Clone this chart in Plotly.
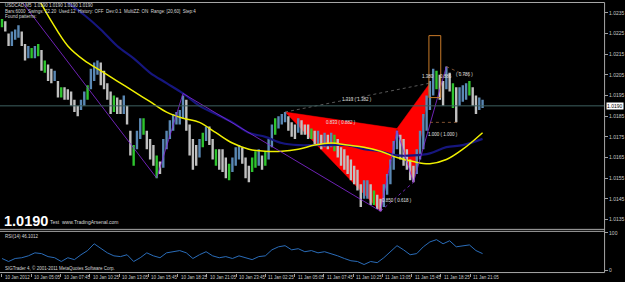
import plotly.graph_objects as go
import pandas as pd

# ---------------- data ----------------
start = pd.Timestamp("2012-01-10 02:25")
step_min = 18          # sampling of bars (minutes)

high = [1.0232,1.0231,1.0225,1.0226,1.0227,1.0229,1.0226,1.0220,1.0219,1.0218,
        1.0219,1.0220,1.0217,1.0212,1.0210,1.0208,1.0207,1.0202,1.0199,1.0199,
        1.0198,1.0197,1.0193,1.0190,1.0193,1.0197,1.0200,1.0208,1.0211,1.0212,
        1.0211,1.0207,1.0201,1.0197,1.0195,1.0194,1.0193,1.0195,1.0190,1.0178,
        1.0171,1.0178,1.0184,1.0184,1.0178,1.0174,1.0171,1.0166,1.0163,1.0174,
        1.0178,1.0183,1.0186,1.0187,1.0188,1.0195,1.0193,1.0181,1.0174,1.0171,
        1.0174,1.0177,1.0180,1.0180,1.0174,1.0169,1.0169,1.0169,1.0165,1.0162,
        1.0165,1.0170,1.0171,1.0170,1.0165,1.0161,1.0165,1.0168,1.0169,1.0166,
        1.0168,1.0174,1.0181,1.0184,1.0185,1.0186,1.0187,1.0185,1.0182,1.0181,
        1.0184,1.0183,1.0181,1.0181,1.0179,1.0178,1.0178,1.0176,1.0177,1.0176,
        1.0177,1.0176,1.0174,1.0170,1.0169,1.0166,1.0164,1.0161,1.0159,1.0152,
        1.0154,1.0154,1.0152,1.0149,1.0147,1.0145,1.0152,1.0157,1.0164,1.0173,
        1.0178,1.0176,1.0174,1.0169,1.0164,1.0161,1.0169,1.0178,1.0186,1.0195,
        1.0202,1.0208,1.0207,1.0205,1.0202,1.0209,1.0206,1.0201,1.0199,1.0199,
        1.0200,1.0201,1.0202,1.0199,1.0195,1.0194,1.0193]
low = [1.0228,1.0226,1.0219,1.0219,1.0222,1.0223,1.0219,1.0212,1.0213,1.0213,
       1.0213,1.0214,1.0207,1.0206,1.0202,1.0201,1.0202,1.0194,1.0194,1.0193,
       1.0193,1.0190,1.0187,1.0185,1.0188,1.0190,1.0193,1.0198,1.0202,1.0205,
       1.0200,1.0198,1.0193,1.0186,1.0187,1.0186,1.0186,1.0186,1.0181,1.0166,
       1.0161,1.0169,1.0174,1.0176,1.0169,1.0164,1.0161,1.0155,1.0157,1.0160,
       1.0169,1.0174,1.0178,1.0181,1.0181,1.0184,1.0178,1.0166,1.0159,1.0161,
       1.0165,1.0170,1.0173,1.0171,1.0164,1.0161,1.0159,1.0158,1.0155,1.0154,
       1.0158,1.0161,1.0164,1.0162,1.0155,1.0153,1.0158,1.0160,1.0161,1.0159,
       1.0161,1.0164,1.0170,1.0176,1.0179,1.0181,1.0182,1.0178,1.0175,1.0174,
       1.0177,1.0176,1.0176,1.0174,1.0174,1.0171,1.0171,1.0169,1.0170,1.0169,
       1.0170,1.0168,1.0165,1.0161,1.0159,1.0157,1.0154,1.0152,1.0149,1.0141,
       1.0145,1.0145,1.0142,1.0142,1.0140,1.0139,1.0141,1.0147,1.0152,1.0159,
       1.0169,1.0164,1.0161,1.0159,1.0154,1.0153,1.0157,1.0164,1.0169,1.0178,
       1.0188,1.0195,1.0198,1.0193,1.0190,1.0198,1.0197,1.0189,1.0182,1.0190,
       1.0192,1.0193,1.0195,1.0190,1.0186,1.0188,1.0189]
green_idx = [0, 9, 11, 13, 18, 26, 34, 40, 43, 47, 61, 65, 69, 76, 77, 80, 83,
             94, 101, 113, 132, 137, 142]

yellow_idx = [10,15,20,25,30,35,40,45,50,55,60,65,70,75,80,85,90,95,100,105,
              110,115,120,125,130,135,140,146]
yellow_ma = [1.0245,1.0231,1.0219,1.0212,1.0207,1.0202,1.0197,1.0192,1.0187,
             1.0184,1.0182,1.0177,1.0172,1.0169,1.0168,1.0168,1.0169,1.0171,
             1.0172,1.0171,1.0170,1.0168,1.0165,1.0163,1.0162,1.0164,1.0169,1.0177]
blue_idx = [15,20,25,30,35,40,45,50,55,60,65,70,75,80,85,90,95,100,105,110,
            115,120,125,130,135,140,146]
blue_ma = [1.0247,1.0240,1.0234,1.0227,1.0219,1.0213,1.0206,1.0201,1.0196,
           1.0190,1.0186,1.0182,1.0177,1.0175,1.0172,1.0171,1.0171,1.0171,
           1.0171,1.0169,1.0168,1.0166,1.0166,1.0167,1.0170,1.0171,1.0174]

rsi_step_min = 36
rsi = [32,24,32,34,39,47,45,37,34,24, 34,29,42,53,71,58,47,39,37,42,
       24,34,47,39,34,47,50,53,47,32, 42,50,39,34,37,32,39,34,29,37,
       39,55,63,66,55,58,50,53,47,50, 45,39,32,26,24,16,24,21,34,50,
       66,55,42,45,63,76,82,71,79,63, 66,68,53,45]

zz_idx = [0, 47, 55, 115, 120, 125, 135]
zz_price = [1.0253, 1.0155, 1.0196, 1.0139, 1.0178, 1.0153, 1.0209]

# harmonic pattern points X, A, B, C, D
pat_idx = [86, 115, 120, 125, 130]
pat_price = [1.0187, 1.0139, 1.0179, 1.0153, 1.0201]

ratio_labels = [("1.313 ( 1.382 )", 108, 1.0193),
                ("0.833 ( 0.882 )", 103, 1.0182),
                ("0.850 ( 0.618 )", 120, 1.0144),
                ("1.000 ( 1.000 )", 134, 1.0176),
                ("1.380", 129.5, 1.0204),
                ("0.886", 135, 1.0204),
                ("( 0.786 )", 140.5, 1.0205)]
box_idx = (129.7, 133.3)
box_price = (1.0194, 1.0224)

price_ticks = [1.0135,1.0145,1.0155,1.0165,1.0175,1.0185,1.0195,1.0205,1.0215,1.0225,1.0235]
last_price = 1.0190
x_tick_step_min = 160
n_xticks = 17

# ---------------- helpers ----------------
W, H = 625, 282
PLOT_R = 607.0


def t(i, step=step_min):
    return start + pd.Timedelta(minutes=step * i)


def px(x):
    return x / W


def py(y):
    return 1 - y / H


fig = go.Figure()

# red harmonic triangles (background)
X, A, B, C, D = [(t(i), p) for i, p in zip(pat_idx, pat_price)]
for tri in ([X, A, B, X], [B, C, D, B]):
    fig.add_trace(go.Scatter(x=[q[0] for q in tri], y=[q[1] for q in tri],
                             fill="toself", fillcolor="#ff0000", mode="lines",
                             line=dict(color="#ff0000", width=0.5), hoverinfo="skip"))

# bars
groups = {"gray": ([], []), "blue": ([], []), "green": ([], [])}
for i, (h, l) in enumerate(zip(high, low)):
    if i in green_idx:
        g = "green"
    elif i > 0 and (h + l) < (high[i - 1] + low[i - 1]):
        g = "gray"
    else:
        g = "blue"
    groups[g][0].extend([t(i), t(i), None])
    groups[g][1].extend([l, h, None])
colors = {"gray": "#c0c0c0", "blue": "#5a88b4", "green": "#2ec42e"}
for g, (xs, ys) in groups.items():
    fig.add_trace(go.Scatter(x=xs, y=ys, mode="lines",
                             line=dict(color=colors[g], width=2.4), hoverinfo="skip"))

# moving averages
fig.add_trace(go.Scatter(x=[t(i) for i in blue_idx], y=blue_ma, mode="lines",
                         line=dict(color="#16167e", width=2.2, shape="spline")))
fig.add_trace(go.Scatter(x=[t(i) for i in yellow_idx], y=yellow_ma, mode="lines",
                         line=dict(color="#f0f000", width=1.5, shape="spline")))

# zigzag
fig.add_trace(go.Scatter(x=[t(i) for i in zz_idx], y=zz_price, mode="lines",
                         line=dict(color="#8a2be2", width=0.8)))
# pattern helper lines
fig.add_trace(go.Scatter(x=[X[0], D[0]], y=[X[1], D[1]], mode="lines",
                         line=dict(color="#707070", width=0.8, dash="dot")))
fig.add_trace(go.Scatter(x=[A[0], C[0]], y=[A[1], C[1]], mode="lines",
                         line=dict(color="#8a2be2", width=0.8, dash="dot")))
fig.add_trace(go.Scatter(x=[t(135), t(142)], y=[1.0209, 1.0204], mode="lines",
                         line=dict(color="#a0643c", width=0.8, dash="dot")))
fig.add_trace(go.Scatter(x=[t(130), t(139)], y=[1.0182, 1.0182], mode="lines",
                         line=dict(color="#a0643c", width=0.8, dash="dot")))

# RSI
fig.add_trace(go.Scatter(x=[t(k, rsi_step_min) for k in range(len(rsi))], y=rsi,
                         mode="lines", yaxis="y2",
                         line=dict(color="#2a6cb8", width=1)))

xt = [start + pd.Timedelta(minutes=x_tick_step_min * k) for k in range(n_xticks)]
xl = ["10 Jan 2012"] + [d.strftime("%d %b %H:%M") for d in xt[1:]]

min_per_px = x_tick_step_min / 29.4
x0 = start - pd.Timedelta(minutes=2 * min_per_px)
x1 = start + pd.Timedelta(minutes=(PLOT_R - 2) * min_per_px)

# price axis: px y -> price  (1.0235 at y=12, 20.8 px per 0.001)
def price_at(y):
    return 1.0235 - (y - 12) * 0.001 / 20.8

FONT = "Liberation Sans"
fig.update_layout(
    width=W, height=H, margin=dict(l=0, r=0, t=0, b=0),
    paper_bgcolor="#000000", plot_bgcolor="#000000", showlegend=False,
    xaxis=dict(domain=[0, px(PLOT_R)], range=[x0, x1], anchor="y2",
               showgrid=False, zeroline=False, tickvals=xt, ticks="outside",
               ticklen=3, tickcolor="#a0a0a0", showticklabels=False),
    yaxis=dict(domain=[py(230), py(1.5)], range=[price_at(230), price_at(1.5)],
               side="right", anchor="x", showgrid=False, zeroline=False,
               tickvals=price_ticks, ticktext=[f"{v:.4f}" for v in price_ticks],
               ticks="outside", ticklen=3, tickcolor="#a0a0a0",
               tickfont=dict(family=FONT, size=5, color="#c8c8c8")),
    yaxis2=dict(domain=[py(273.5), py(231.5)], range=[-5.3, 105.3], side="right",
                anchor="x", showgrid=False, zeroline=False, tickvals=[0, 100],
                ticktext=["0", "100"], ticks="outside", ticklen=3,
                tickcolor="#a0a0a0",
                tickfont=dict(family=FONT, size=5, color="#c8c8c8")),
)

line_c = "#a8a8a8"
shapes = [
    dict(type="line", xref="paper", yref="paper", x0=0, x1=px(PLOT_R + 0.5), y0=py(1.5), y1=py(1.5)),
    dict(type="line", xref="paper", yref="paper", x0=px(PLOT_R + 0.5), x1=px(PLOT_R + 0.5), y0=py(1.5), y1=py(273.5)),
    dict(type="line", xref="paper", yref="paper", x0=0, x1=px(PLOT_R + 0.5), y0=py(230), y1=py(230)),
    dict(type="line", xref="paper", yref="paper", x0=0, x1=px(PLOT_R + 0.5), y0=py(232), y1=py(232)),
    dict(type="line", xref="paper", yref="paper", x0=0, x1=px(PLOT_R + 0.5), y0=py(273.5), y1=py(273.5)),
]
for s in shapes:
    s["line"] = dict(color=line_c, width=1)
shapes.append(dict(type="line", xref="paper", yref="y", x0=0, x1=px(PLOT_R),
                   y0=last_price, y1=last_price, line=dict(color="#3e6060", width=1)))
shapes.append(dict(type="rect", xref="x", yref="y", x0=t(box_idx[0]), x1=t(box_idx[1]),
                   y0=box_price[0], y1=box_price[1],
                   line=dict(color="#c87a28", width=1)))
fig.update_layout(shapes=shapes)

anns = []


def ann(x, y, text, size=4.5, color="#d8d8d8", xanchor="left", xref="paper",
        yref="paper", bold=False, **kw):
    anns.append(dict(x=x, y=y, xref=xref, yref=yref, text=f"<b>{text}</b>" if bold else text,
                     showarrow=False, xanchor=xanchor, yanchor="middle",
                     font=dict(family=FONT, size=size, color=color), **kw))


ann(px(3), py(5), "USDCAD,M5  1.0190 1.0190 1.0190 1.0190")
ann(px(3), py(10.5), "Bars:6000  Swings: 22.20  Used:12  History: OFF  Dev:0.1  MultiZZ: ON  Range: [20,60]  Step:4")
ann(px(3), py(16), "Found patterns:")
ann(px(2), py(222), "1.0190", size=14.5, color="#ffffff", bold=True)
ann(px(48), py(223), "Test  www.TradingArsenal.com", size=5)
ann(px(3), py(237), "RSI(14) 46.1012")
ann(px(3), py(269), "SIGTrader 4, © 2001-2011 MetaQuotes Software Corp.")
for txt, i, p in ratio_labels:
    ann(t(i), p, txt, size=4.5, color="#e0e0e0", xanchor="center", xref="x", yref="y")
for d, lab in zip(xt, xl):
    ann(d, py(278.5), lab, size=4.5, color="#c8c8c8", xref="x", xshift=1)
anns.append(dict(x=px(PLOT_R + 1.5), y=last_price, xref="paper", yref="y",
                 text="1.0190", showarrow=False, xanchor="left", yanchor="middle",
                 bgcolor="#ffffff", borderpad=0,
                 font=dict(family=FONT, size=5, color="#000000")))
fig.update_layout(annotations=anns)

fig.write_html("out.html")
